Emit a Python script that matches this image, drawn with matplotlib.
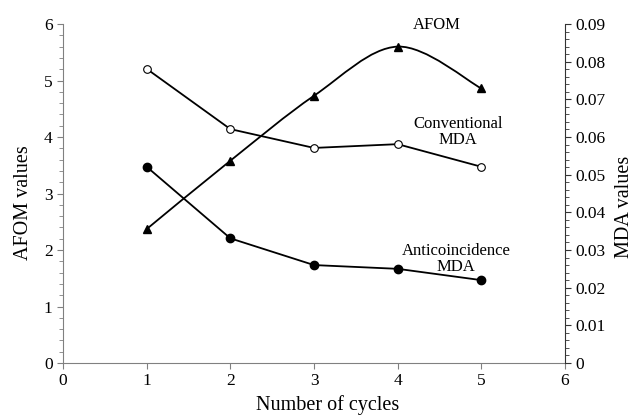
import numpy as np
import matplotlib.pyplot as plt
from matplotlib.path import Path
from matplotlib.patches import PathPatch
from matplotlib.ticker import MultipleLocator, FuncFormatter

plt.rcParams['font.family'] = ['Liberation Serif', 'DejaVu Serif']

# Data
cycles = [1, 2, 3, 4, 5]
afom = [2.37, 3.58, 4.73, 5.60, 4.86]
conventional_mda = [0.0781, 0.0621, 0.0571, 0.0581, 0.0521]
anticoincidence_mda = [0.0521, 0.0331, 0.0260, 0.0250, 0.0220]


def smooth_path(xs, ys, t=1/6):
    # Excel-like smoothed line: cubic Bezier segments through the points
    xs = np.asarray(xs, float)
    ys = np.asarray(ys, float)
    n = len(xs)
    verts = [(xs[0], ys[0])]
    codes = [Path.MOVETO]
    for i in range(n - 1):
        p0 = (xs[max(i - 1, 0)], ys[max(i - 1, 0)])
        p1 = (xs[i], ys[i])
        p2 = (xs[i + 1], ys[i + 1])
        p3 = (xs[min(i + 2, n - 1)], ys[min(i + 2, n - 1)])
        c1 = (p1[0] + (p2[0] - p0[0]) * t, p1[1] + (p2[1] - p0[1]) * t)
        c2 = (p2[0] - (p3[0] - p1[0]) * t, p2[1] - (p3[1] - p1[1]) * t)
        verts += [c1, c2, p2]
        codes += [Path.CURVE4] * 3
    return Path(verts, codes)


fig = plt.figure(figsize=(6.35, 4.16), dpi=100)
ax = fig.add_axes([0.0992, 0.1274, 0.7906, 0.8149])
ax2 = ax.twinx()

gray = '#808080'

# AFOM on left axis
ax.add_patch(PathPatch(smooth_path(cycles, afom), fill=False, lw=1.3, color='black'))
ax.plot(cycles, afom, ls='none', marker='^', ms=6, color='black')

# MDA on right axis
ax2.plot(cycles, conventional_mda, '-o', color='black', lw=1.3, ms=5.5,
         mfc='white', mec='black', mew=0.8)
ax2.plot(cycles, anticoincidence_mda, '-o', color='black', lw=1.3, ms=6)

ax.set_xlim(0, 6)
ax.set_ylim(0, 6)
ax2.set_ylim(0, 0.09)

ax.xaxis.set_major_locator(MultipleLocator(1))
ax.yaxis.set_major_locator(MultipleLocator(1))
ax.yaxis.set_minor_locator(MultipleLocator(0.2))
ax2.yaxis.set_major_locator(MultipleLocator(0.01))
ax2.yaxis.set_minor_locator(MultipleLocator(0.002))
ax2.yaxis.set_major_formatter(FuncFormatter(lambda v, p: '0' if abs(v) < 1e-9 else f'{v:.2f}'))

for a in (ax, ax2):
    a.spines['top'].set_visible(False)
ax.spines['right'].set_visible(False)
ax.spines['left'].set_color(gray)
ax.spines['bottom'].set_color(gray)
ax2.spines['left'].set_visible(False)
ax2.spines['bottom'].set_visible(False)
ax2.spines['right'].set_color('#333333')

ax.tick_params(axis='both', which='major', direction='out', length=4, color=gray,
               labelsize=12.5, labelcolor='black')
ax.tick_params(axis='y', which='minor', direction='out', length=3, color=gray)
ax2.tick_params(axis='y', which='major', direction='out', length=4, color='#333333',
                labelsize=12.5)
ax2.tick_params(axis='y', which='minor', direction='out', length=3, color='#333333')

ax.set_xlabel('Number of cycles', fontsize=14.5)
ax.set_ylabel('AFOM values', fontsize=14.5)
ax2.set_ylabel('MDA values', fontsize=14.5)
ax.xaxis.set_label_coords(0.527, -0.095)
ax.yaxis.set_label_coords(-0.06, 0.472)
ax2.yaxis.set_label_coords(1.10, 0.46)

ax.text(4.47, 5.98, 'AFOM', ha='center', va='center', fontsize=12)
ax.text(4.72, 4.09, 'Conventional\nMDA', ha='center', va='center', fontsize=12,
        linespacing=1.05)
ax.text(4.70, 1.84, 'Anticoincidence\nMDA', ha='center', va='center', fontsize=12,
        linespacing=1.05)

fig.savefig('out.png', dpi=100)
